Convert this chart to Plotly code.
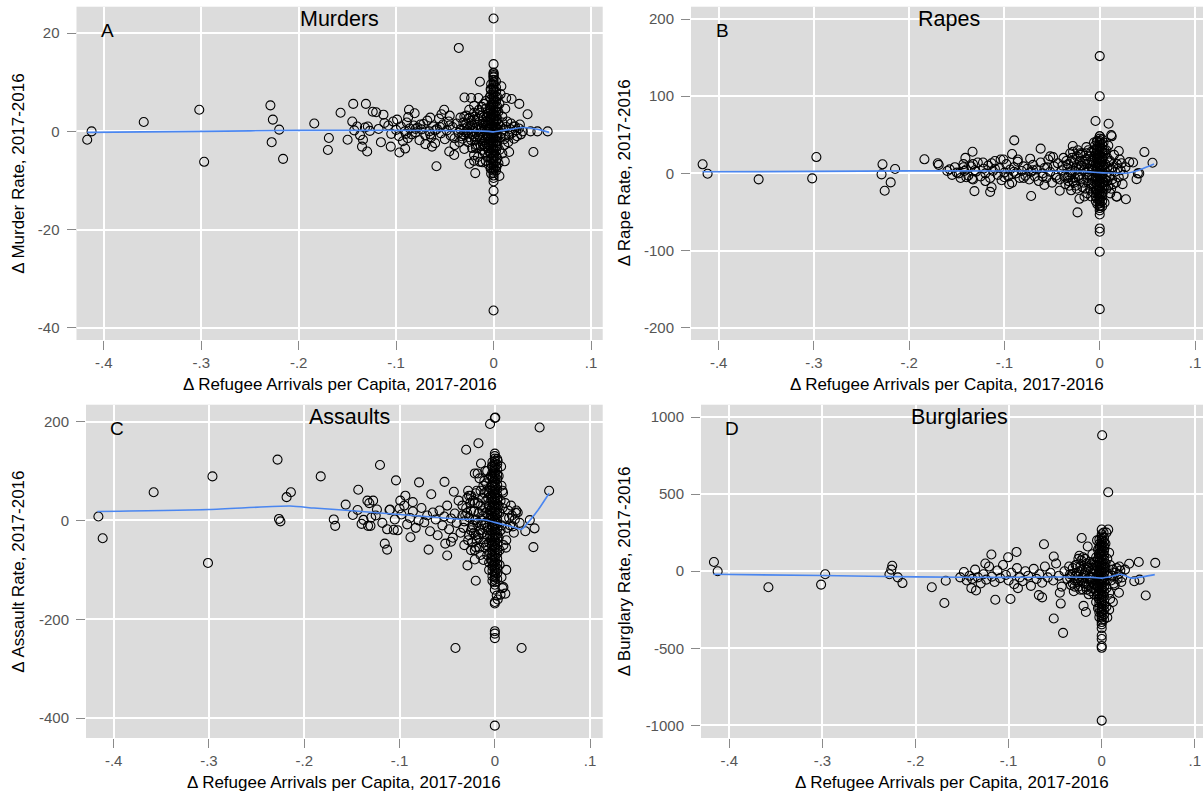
import plotly.graph_objects as go

# x values are change in refugee arrivals per capita, y values change in crime rate
murders_pts = [
    (-0.417, -1.7), (-0.4125, 0.0), (-0.359, 1.9), (-0.302, 4.4), (-0.297, -6.2),
    (-0.229, 5.3), (-0.2265, 2.4), (-0.22, 0.35), (-0.2277, -2.2), (-0.216, -5.6),
    (-0.184, 1.6), (-0.169, -1.35), (-0.170, -3.8), (-0.157, 3.8), (-0.1498, -1.7),
    (-0.144, 5.6), (-0.145, 2.0), (-0.131, 5.6), (-0.135, -3.1), (-0.1297, -4.1),
    (-0.134, -1.7), (-0.124, 4.0), (-0.1205, 3.9), (-0.113, 3.4), (-0.1156, -2.2),
    (-0.1055, -3.1), (-0.0966, -4.3), (-0.0907, -3.5), (-0.0868, 4.4), (-0.0876, 2.9),
    (-0.081, 3.7), (-0.0586, -7.1), (-0.0632, -3.1), (-0.0507, 4.4), (-0.0535, 3.5),
    (-0.0455, -4.1), (-0.0404, -4.8), (-0.0357, 17.0), (-0.0298, 6.9), (-0.023, 6.8),
    (-0.0155, 6.8), (-0.014, 10.1), (-0.020, 5.2), (-0.0247, -6.6), (-0.0188, -8.5),
    (-0.0114, -6.3), (0.0, 23.0), (0.0, 13.7), (0.0, 11.8), (0.0, 11.2), (0.0, -10.2),
    (0.0, -12.1), (0.0, -13.9), (0.0, -36.5), (0.008, 9.2), (0.0072, 7.6), (0.0115, -6.1),
    (0.011, -2.8), (0.006, -9.1), (0.0185, 6.6), (0.0264, 5.6), (0.0349, 3.5),
    (0.0409, -4.2), (0.030, 0.0), (0.038, 0.0), (0.045, 0.0), (0.0555, 0.0), (0.0205, 1.0),
    (-0.143, 0.2), (-0.14, 1.0), (-0.137, -0.8), (-0.132, 0.8), (-0.129, 1.0), (-0.127, 0.1),
    (-0.118, 0.5), (-0.112, 1.7), (-0.108, 1.2), (-0.105, -0.5), (-0.103, 2.0), (-0.1, 0.3),
    (-0.099, 2.4), (-0.097, -1.0), (-0.095, 1.0), (-0.093, -2.0), (-0.091, 0.0), (-0.089, 1.8),
    (-0.088, -1.4), (-0.086, 0.6), (-0.084, -0.6), (-0.082, 1.2), (-0.08, -0.2), (-0.078, 0.8),
    (-0.076, -1.8), (-0.074, 0.4), (-0.072, 1.5), (-0.07, -0.8), (-0.068, 2.2), (-0.066, 0.0),
    (-0.064, -1.2), (-0.062, 1.0), (-0.06, -2.4), (-0.058, 0.5), (-0.056, 2.6), (-0.054, -0.4),
    (-0.052, 1.4), (-0.05, -1.6), (-0.048, 0.2), (-0.046, 2.0), (-0.044, -0.9), (-0.042, 0.9),
    (-0.04, -2.8), (-0.038, 1.6), (-0.036, -0.3), (-0.034, 2.8), (-0.032, -1.5), (-0.03, 0.6),
    (-0.028, 3.2), (-0.026, -2.2), (-0.024, 1.1), (-0.022, -0.6), (-0.02, 2.4), (-0.018, -3.4),
    (-0.016, 0.3), (-0.014, 3.8), (-0.012, -1.8), (-0.011, 1.6), (-0.009, -4.4), (-0.008, 4.6),
    (-0.007, -0.8), (-0.006, 2.2), (-0.005, -2.6), (-0.004, 0.7), (-0.065, 2.8), (-0.07, -2.6),
    (-0.045, 3.2), (-0.03, -3.6), (-0.02, -4.8), (-0.012, 5.0), (-0.008, -6.0), (-0.025, 4.4),
    (-0.016, -5.2),
    (-0.034, 0.4), (-0.033, -1.0), (-0.031, 1.8), (-0.029, -0.2), (-0.027, 0.9), (-0.025, -1.2),
    (-0.023, 2.2), (-0.021, 0.1), (-0.019, -1.8), (-0.017, 1.3), (-0.015, -0.7), (-0.013, 0.5),
    (-0.011, -2.6), (-0.01, 2.9), (-0.009, 0.2), (-0.008, -1.4), (-0.007, 1.2), (-0.006, -3.4),
    (-0.005, 3.6), (-0.005, 0.8), (-0.004, -1.8), (-0.004, 2.4), (-0.003, -0.6), (-0.003, 4.2),
    (-0.003, -4.6), (-0.02, 3.8), (-0.018, -2.8), (-0.014, 2.0), (-0.012, 0.8), (-0.01, -0.8),
    (-0.009, -3.0), (-0.007, 3.0), (-0.006, -1.0), (-0.015, 4.4), (-0.022, -3.4), (-0.026, 2.6),
    (-0.012, -3.8), (-0.008, 6.2), (-0.006, -5.2), (-0.004, 7.0), (-0.005, -6.8), (-0.003, 8.6),
    (-0.003, -7.6), (-0.01, 5.6), (-0.014, -6.2), (-0.02, -6.0), (-0.03, 3.0), (-0.04, -1.4),
    (-0.045, 1.2), (-0.035, -2.2), (-0.055, 0.9), (-0.06, 0.2), (-0.075, 1.4), (-0.08, 0.5),
    (-0.09, -0.5), (-0.065, -0.6),
    (-0.028, 1.6), (-0.026, -0.4), (-0.024, 2.8), (-0.022, 1.4), (-0.02, -1.0), (-0.018, 0.6),
    (-0.016, 2.6), (-0.014, -1.6), (-0.013, -3.0), (-0.012, 3.2), (-0.011, 0.0), (-0.01, 1.2),
    (-0.009, -1.8), (-0.008, 2.0), (-0.007, -2.6), (-0.006, 0.4), (-0.006, 3.6), (-0.005, -0.8),
    (-0.005, -4.0), (-0.004, 1.6), (-0.004, 4.8), (-0.003, -2.4), (-0.003, 2.8), (-0.002, -5.6),
    (-0.002, 5.4), (-0.016, -2.8), (-0.019, 3.0), (-0.023, -1.8), (-0.027, 0.2), (-0.031, -0.6),
    (0.004, 5.0), (0.004, 2.5), (0.004, 0.5), (0.004, -1.0), (0.004, -3.0), (0.004, -5.5),
    (0.005, 1.5), (0.007, -1.2), (0.009, 3.0), (0.01, 0.4), (0.012, -0.8), (0.014, 2.0),
    (0.015, -2.2), (0.017, 0.5), (0.019, -0.3), (0.022, 1.0), (0.024, -1.0), (0.026, 0.6),
    (0.028, -0.6), (0.012, 4.6), (0.009, -4.5), (0.016, -4.2), (0.013, 6.8),
    (0.003, 2.2), (0.004, -2.0), (0.005, 4.0), (0.006, -3.8), (0.007, 1.0), (0.008, -0.4),
    (0.009, 1.8), (0.011, -1.6), (0.013, 0.9), (0.016, -0.9), (0.018, 1.6), (0.021, -1.5),
    (0.023, 0.2), (0.027, 1.4), (0.005, -6.5), (0.004, 7.0), (0.006, 5.6), (0.003, -7.2),
]
# counties with no change in arrivals (x = 0) and the two thin strips beside them
murders_zero_y = [12.0, 11.5, 11.0, 10.5, 10.0, 9.5, 9.0, 8.5, 8.0, 7.5, 7.0, 6.5, 6.0, 5.5, 5.0,
                  4.5, 4.0, 3.5, 3.0, 2.5, 2.0, 1.5, 1.0, 0.5, 0.0, -0.5, -1.0, -1.5, -2.0, -2.5,
                  -3.0, -3.5, -4.0, -4.5, -5.0, -5.5, -6.0, -6.5, -7.0, -7.5, -8.0, -8.5, -9.0, -9.5]
murders_left_y = [9.6, 8.4, 7.5, 6.6, 5.4, 4.5, 3.4, 2.6, 1.5, 0.6, -0.5, -1.4, -2.5, -3.6, -4.4,
                  -5.5, -6.6, -7.4, -8.6]
murders_right_y = [10.2, 9.0, 8.1, 7.0, 6.1, 4.9, 4.0, 3.1, 2.0, 0.9, 0.1, -1.0, -2.1, -2.9, -4.0,
                   -5.0, -6.1, -7.1, -8.0]
murders_fit_x = [-0.417, -0.36, -0.3, -0.2, -0.1, -0.05, -0.02, -0.005, 0.0, 0.01, 0.02, 0.03, 0.04, 0.05, 0.057]
murders_fit_y = [-0.2, -0.1, 0.0, 0.2, 0.2, 0.15, 0.1, 0.0, -0.1, 0.2, 0.5, 0.8, 0.6, 0.2, -0.2]

rapes_pts = [
    (-0.4168, 11.7), (-0.4116, -0.5), (-0.358, -7.8), (-0.3018, -6.5), (-0.2974, 21.1),
    (-0.228, 11.7), (-0.229, -1.3), (-0.2148, 5.6), (-0.2194, -11.7), (-0.2257, -22.5),
    (-0.184, 18.2), (-0.170, 13.0), (-0.169, 11.0), (-0.1575, 5.2), (-0.150, 1.0),
    (-0.143, 8.0), (-0.141, 20.0), (-0.142, 3.0), (-0.140, -5.0), (-0.1335, 28.0),
    (-0.133, 12.0), (-0.131, 4.0), (-0.134, -7.0), (-0.1315, -23.0), (-0.1225, 14.0),
    (-0.115, -24.0), (-0.1135, -18.0), (-0.1135, 13.0), (-0.104, 18.0), (-0.101, 18.0),
    (-0.0897, 42.8), (-0.092, 25.0), (-0.086, 18.0), (-0.095, -14.0), (-0.072, -29.4),
    (-0.073, 19.0), (-0.062, 32.0), (-0.058, -15.0), (-0.052, 22.0), (-0.049, 21.0),
    (-0.042, -22.5), (-0.0283, 35.4), (-0.0233, -50.6), (-0.0213, -33.0), (-0.0205, 26.0),
    (-0.0044, 67.8), (0.0, 152.0), (0.0, 100.0), (0.0, 48.0), (0.0, 40.0), (0.0, -33.7),
    (0.0, -42.6), (0.0, -53.4), (0.0, -71.4), (0.0, -75.7), (0.0, -101.6), (0.0, -176.0),
    (0.0093, 64.3), (0.012, 49.6), (0.020, 29.0), (0.023, 13.0), (0.018, -30.3),
    (0.0275, -33.6), (0.031, 14.6), (0.0387, -7.5), (0.040, 0.0), (0.0469, 27.6),
    (0.0554, 13.8), (0.035, 14.0), (0.0415, 0.0), (0.0175, -30.0), (0.0126, 48.0),
    (-0.16, 3.0), (-0.155, -2.0), (-0.152, 8.0), (-0.148, 0.0), (-0.146, -6.0), (-0.143, 12.0),
    (-0.14, 5.0), (-0.138, -3.0), (-0.135, 9.0), (-0.133, -8.0), (-0.13, 2.0), (-0.128, 14.0),
    (-0.125, -4.0), (-0.122, 6.0), (-0.12, 0.0), (-0.117, 10.0), (-0.115, -6.0), (-0.112, 3.0),
    (-0.11, 16.0), (-0.107, -2.0), (-0.105, 7.0), (-0.103, -9.0), (-0.1, 1.0), (-0.098, 12.0),
    (-0.096, -4.0), (-0.094, 5.0), (-0.092, -12.0), (-0.09, 8.0), (-0.088, 0.0), (-0.086, 15.0),
    (-0.084, -6.0), (-0.082, 3.0), (-0.08, 9.0), (-0.078, -3.0), (-0.076, 6.0), (-0.074, -8.0),
    (-0.072, 2.0), (-0.07, 11.0), (-0.068, -4.0), (-0.066, 5.0), (-0.064, -10.0), (-0.062, 14.0),
    (-0.06, 0.0), (-0.058, 7.0), (-0.056, -6.0), (-0.054, 18.0), (-0.052, 2.0), (-0.05, -12.0),
    (-0.048, 9.0), (-0.046, -3.0), (-0.044, 13.0), (-0.042, -8.0), (-0.04, 4.0), (-0.038, 20.0),
    (-0.036, -14.0), (-0.034, 7.0), (-0.032, -2.0), (-0.03, 16.0), (-0.028, -10.0), (-0.026, 3.0),
    (-0.024, 22.0), (-0.022, -6.0), (-0.02, 10.0), (-0.018, -18.0), (-0.016, 5.0), (-0.014, 26.0),
    (-0.012, -12.0), (-0.01, 14.0), (-0.008, -4.0), (-0.006, 30.0), (-0.004, -22.0), (-0.003, 8.0),
    (-0.034, -6.0), (-0.033, 12.0), (-0.031, 2.0), (-0.029, 20.0), (-0.027, -12.0), (-0.025, 8.0),
    (-0.023, -4.0), (-0.021, 16.0), (-0.019, -8.0), (-0.017, 4.0), (-0.015, -20.0), (-0.013, 12.0),
    (-0.011, -2.0), (-0.01, 22.0), (-0.009, -14.0), (-0.008, 6.0), (-0.007, -24.0), (-0.006, 14.0),
    (-0.005, -8.0), (-0.005, 36.0), (-0.004, 2.0), (-0.004, -30.0), (-0.003, 20.0), (-0.003, -14.0),
    (-0.003, 42.0), (-0.012, 30.0), (-0.016, -30.0), (-0.02, 24.0), (-0.024, -20.0), (-0.028, 28.0),
    (-0.032, -16.0), (-0.045, -6.0), (-0.055, 8.0), (-0.06, -4.0), (-0.07, 4.0), (-0.08, -6.0),
    (-0.09, 2.0), (-0.1, -5.0), (-0.11, 6.0), (-0.12, -10.0),
    (-0.039, 10.0), (-0.037, -4.0), (-0.035, 16.0), (-0.033, -10.0), (-0.031, 26.0), (-0.029, 4.0),
    (-0.027, 14.0), (-0.025, -16.0), (-0.023, 30.0), (-0.021, -2.0), (-0.019, 10.0), (-0.017, -12.0),
    (-0.015, 18.0), (-0.013, -6.0), (-0.011, 6.0), (-0.009, 28.0), (-0.008, -8.0), (-0.007, 4.0),
    (-0.006, -16.0), (-0.005, 20.0), (-0.005, 10.0), (-0.004, -4.0), (-0.004, 26.0), (-0.003, -22.0),
    (-0.003, 32.0), (-0.002, 14.0), (-0.002, -8.0), (-0.018, 26.0), (-0.014, 34.0), (-0.01, -20.0),
    (-0.016, 12.0), (-0.012, 2.0), (-0.008, 16.0), (-0.006, 40.0), (-0.004, -36.0), (-0.022, 8.0),
    (-0.026, -6.0), (-0.03, -22.0), (-0.013, -26.0), (-0.009, -30.0),
    (0.004, 10.0), (0.006, -8.0), (0.008, 20.0), (0.01, -3.0), (0.012, 6.0), (0.014, -14.0),
    (0.016, 2.0), (0.018, 12.0), (0.02, -5.0), (0.022, 4.0), (0.025, -2.0), (0.005, 30.0),
    (0.007, -20.0), (0.011, -26.0), (0.015, 24.0),
    (0.003, 18.0), (0.004, -12.0), (0.005, 4.0), (0.006, 26.0), (0.007, -4.0), (0.008, 8.0),
    (0.009, -16.0), (0.011, 16.0), (0.013, -8.0), (0.017, -12.0), (0.019, 6.0), (0.021, 18.0),
    (0.024, -14.0), (0.027, 8.0), (0.004, 40.0), (0.005, -38.0), (0.009, 36.0),
    (0.003, -26.0), (0.004, 26.0), (0.006, 12.0), (0.008, -10.0), (0.01, 14.0), (0.012, -20.0),
    (0.014, 8.0), (0.003, 0.0), (0.005, -16.0), (0.007, 30.0),
]
rapes_zero_y = [48, 45, 42, 39, 36, 33, 30, 27, 24, 21, 18, 15, 12, 9, 6, 3, 0, -3, -6, -9, -12,
                -15, -18, -21, -24, -27, -30, -33, -36, -39, -42, -45, -48]
rapes_left_y = [41, 35, 30, 24, 18, 13, 7, 1, -4, -10, -16, -21, -27, -33, -40]
rapes_right_y = [44, 38, 32, 27, 21, 15, 9, 4, -2, -7, -13, -19, -25, -30, -36, -43]
rapes_fit_x = [-0.417, -0.3, -0.2, -0.1, -0.02, 0.0, 0.01, 0.03, 0.045, 0.057]
rapes_fit_y = [2.0, 2.5, 3.2, 3.0, 2.5, 1.0, 0.5, 0.5, 6.0, 12.0]

assaults_pts = [
    (-0.416, 8.0), (-0.4115, -36.0), (-0.358, 57.0), (-0.2963, 89.0), (-0.301, -86.0),
    (-0.228, 123.0), (-0.2265, 3.0), (-0.225, -2.0), (-0.214, 57.0), (-0.2185, 47.0),
    (-0.1827, 89.0), (-0.169, 2.0), (-0.1675, -11.0), (-0.1565, 32.0), (-0.1433, 62.0),
    (-0.149, 11.0), (-0.144, 21.0), (-0.1398, -7.0), (-0.1378, 1.0), (-0.1337, 40.0),
    (-0.1317, 35.0), (-0.1297, 6.0), (-0.133, -11.0), (-0.1305, -11.0), (-0.1277, 40.0),
    (-0.1237, 22.0), (-0.1205, 112.0), (-0.1155, -47.0), (-0.113, -59.0), (-0.1105, 21.0),
    (-0.113, -18.0), (-0.1037, 81.0), (-0.0992, 40.0), (-0.1, 24.0), (-0.106, -19.0),
    (-0.0939, 50.0), (-0.0861, 37.0), (-0.0885, -34.0), (-0.0795, 77.0), (-0.0667, 53.0),
    (-0.0695, -59.0), (-0.0528, 78.0), (-0.052, -47.0), (-0.050, -71.0), (-0.043, 58.0),
    (-0.0413, -258.0), (-0.046, -43.0), (-0.0301, 143.0), (-0.0287, -91.0), (-0.02, -122.0),
    (-0.0172, 156.0), (-0.021, -79.0), (-0.02, -54.0), (-0.0145, 115.0), (-0.018, 95.0),
    (-0.021, 95.0), (-0.005, 195.0), (0.0, 207.0), (0.0005, 208.0), (0.0, -140.0),
    (0.0, -165.0), (0.0, -168.0), (0.0, -224.0), (0.0, -229.0), (0.0, -238.0), (0.0, -415.0),
    (0.0066, 109.0), (0.0086, 56.0), (0.0117, -55.0), (0.011, -148.0), (0.0281, -258.0),
    (0.032, -22.0), (0.0367, 0.6), (0.0417, -16.0), (0.0405, -54.0), (0.047, 188.0),
    (0.057, 60.0), (0.0225, 20.0), (0.024, 16.0), (0.008, -137.0), (0.002, -152.0),
    (-0.125, 10.0), (-0.118, -5.0), (-0.11, 22.0), (-0.105, 2.0), (-0.102, -20.0), (-0.098, 12.0),
    (-0.095, 30.0), (-0.092, -8.0), (-0.089, 5.0), (-0.086, 18.0), (-0.083, -15.0), (-0.08, 0.0),
    (-0.077, 25.0), (-0.074, -4.0), (-0.071, 10.0), (-0.068, -22.0), (-0.065, 16.0), (-0.062, 2.0),
    (-0.06, -30.0), (-0.058, 20.0), (-0.055, -10.0), (-0.053, 8.0), (-0.05, 30.0), (-0.048, -18.0),
    (-0.046, 4.0), (-0.044, -35.0), (-0.042, 14.0), (-0.04, -5.0), (-0.038, 40.0), (-0.036, -25.0),
    (-0.034, 10.0), (-0.032, -2.0), (-0.03, 25.0), (-0.028, -40.0), (-0.027, 6.0), (-0.025, 50.0),
    (-0.024, -15.0), (-0.022, 18.0), (-0.021, -60.0), (-0.02, 2.0), (-0.018, 35.0), (-0.017, -28.0),
    (-0.015, 60.0), (-0.014, -8.0), (-0.013, 20.0), (-0.012, -45.0), (-0.011, 80.0), (-0.01, -5.0),
    (-0.009, 40.0), (-0.008, -70.0), (-0.007, 12.0), (-0.006, 55.0), (-0.005, -30.0), (-0.004, 90.0),
    (-0.003, -50.0), (-0.003, 25.0), (-0.002, -90.0), (-0.015, -70.0), (-0.025, -60.0),
    (-0.01, 100.0), (-0.006, -100.0),
    (-0.034, 30.0), (-0.033, -15.0), (-0.031, 10.0), (-0.029, 45.0), (-0.027, -30.0), (-0.025, 20.0),
    (-0.023, -10.0), (-0.021, 35.0), (-0.019, -40.0), (-0.017, 15.0), (-0.015, -20.0), (-0.013, 45.0),
    (-0.011, -10.0), (-0.01, 25.0), (-0.009, -50.0), (-0.008, 60.0), (-0.007, -20.0), (-0.006, 30.0),
    (-0.005, -65.0), (-0.005, 5.0), (-0.004, 50.0), (-0.004, -40.0), (-0.003, 70.0), (-0.003, -10.0),
    (-0.003, 110.0), (-0.012, 70.0), (-0.016, -55.0), (-0.02, 55.0), (-0.024, -45.0), (-0.028, 60.0),
    (-0.032, -50.0), (-0.008, -30.0), (-0.006, 85.0), (-0.004, -80.0), (-0.009, 15.0), (-0.014, 0.0),
    (-0.018, -5.0), (-0.022, -25.0), (-0.026, 35.0),
    (-0.029, 15.0), (-0.027, 50.0), (-0.025, -20.0), (-0.023, 40.0), (-0.021, 0.0), (-0.019, 60.0),
    (-0.017, -35.0), (-0.015, 30.0), (-0.013, -25.0), (-0.012, 10.0), (-0.011, 55.0), (-0.01, -55.0),
    (-0.009, 75.0), (-0.008, -15.0), (-0.007, 45.0), (-0.006, -45.0), (-0.005, 20.0), (-0.005, 65.0),
    (-0.004, -20.0), (-0.004, 10.0), (-0.003, -70.0), (-0.003, 45.0), (-0.002, 85.0), (-0.002, -35.0),
    (-0.002, 5.0), (-0.02, -30.0), (-0.016, 85.0), (-0.012, -80.0), (-0.008, 100.0), (-0.006, -85.0),
    (0.004, 30.0), (0.006, -20.0), (0.008, 60.0), (0.01, 5.0), (0.012, -40.0), (0.014, 20.0),
    (0.016, -10.0), (0.018, 10.0), (0.02, -25.0), (0.022, 15.0), (0.026, -5.0), (0.005, -60.0),
    (0.007, 70.0), (0.012, -100.0), (0.009, -135.0), (0.006, -150.0), (0.003, -160.0),
    (0.003, 45.0), (0.004, -35.0), (0.005, 15.0), (0.006, 40.0), (0.007, -10.0), (0.008, 25.0),
    (0.009, -50.0), (0.011, 35.0), (0.013, -15.0), (0.015, 5.0), (0.017, 30.0), (0.019, -12.0),
    (0.021, 2.0), (0.004, 90.0), (0.005, -90.0), (0.007, -115.0), (0.003, 120.0),
]
assaults_zero_y = [135, 130, 125, 120, 115, 110, 105, 100, 95, 90, 85, 80, 75, 70, 65, 60, 55, 50,
                   45, 40, 35, 30, 25, 20, 15, 10, 5, 0, -5, -10, -15, -20, -25, -30, -35, -40, -45,
                   -50, -55, -60, -65, -70, -75, -80, -85, -90, -95, -100, -105, -110, -115, -120,
                   -125, -130]
assaults_left_y = [118, 108, 97, 88, 77, 68, 57, 48, 38, 27, 18, 8, -3, -12, -23, -32, -43, -52,
                   -62, -73, -82, -93, -102, -113, -122]
assaults_right_y = [124, 113, 103, 92, 83, 72, 63, 52, 43, 33, 22, 13, 2, -7, -17, -28, -37, -47,
                    -58, -67, -77, -88, -97, -107, -118]
assaults_fit_x = [-0.417, -0.3, -0.215, -0.19, -0.16, -0.12, -0.08, -0.04, -0.01, 0.0, 0.01, 0.02, 0.028, 0.035, 0.045, 0.057]
assaults_fit_y = [18, 22, 29, 25, 21, 15, 9, 3, 1, -4, -9, -14, -18, -4, 20, 55]

burglaries_pts = [
    (-0.4165, 60.0), (-0.4125, 0.0), (-0.358, -104.0), (-0.3014, -87.0), (-0.297, -20.0),
    (-0.228, -20.0), (-0.226, 10.0), (-0.225, 35.0), (-0.219, -40.0), (-0.214, -77.0),
    (-0.1825, -104.0), (-0.169, -206.0), (-0.1675, -62.0), (-0.1185, 108.0), (-0.1143, -185.0),
    (-0.1005, 90.0), (-0.098, -180.0), (-0.0915, 125.0), (-0.09, -110.0), (-0.0675, -155.0),
    (-0.064, -170.0), (-0.062, 175.0), (-0.0515, 95.0), (-0.0515, -307.0), (-0.044, -210.0),
    (-0.0415, -400.0), (-0.024, 100.0), (-0.0195, -225.0), (-0.017, -265.0), (-0.0215, 215.0),
    (0.0005, 882.0), (0.007, 512.0), (0.0, 270.0), (0.002, 250.0), (0.0, -497.0),
    (0.0, -485.0), (0.0, -440.0), (0.0, -418.0), (0.0, -370.0), (0.0, -969.0),
    (0.0185, -140.0), (0.0295, 48.0), (0.035, -65.0), (0.0398, 60.0), (0.0407, -55.0),
    (0.0473, -158.0), (0.0575, 54.0), (-0.14, -110.0), (-0.135, -125.0), (-0.125, 50.0),
    (-0.152, -40.0), (-0.148, -5.0), (-0.145, -60.0), (-0.142, -30.0), (-0.139, -50.0),
    (-0.136, 10.0), (-0.133, -40.0), (-0.13, -80.0), (-0.127, -20.0), (-0.124, -55.0),
    (-0.121, 30.0), (-0.118, -35.0), (-0.115, -70.0), (-0.112, 5.0), (-0.109, -45.0),
    (-0.106, 40.0), (-0.103, -25.0), (-0.1, -60.0), (-0.097, -10.0), (-0.094, -85.0),
    (-0.091, 20.0), (-0.088, -40.0), (-0.085, -65.0), (-0.082, 0.0), (-0.079, -30.0),
    (-0.076, -95.0), (-0.073, 15.0), (-0.07, -50.0), (-0.067, -20.0), (-0.064, -75.0),
    (-0.061, 30.0), (-0.058, -40.0), (-0.055, -10.0), (-0.052, -60.0), (-0.049, 50.0),
    (-0.046, -30.0), (-0.043, -100.0), (-0.04, 0.0), (-0.037, -50.0), (-0.034, -20.0),
    (-0.031, -80.0), (-0.028, 40.0), (-0.025, -35.0), (-0.022, -60.0), (-0.02, 90.0),
    (-0.018, -10.0), (-0.016, -120.0), (-0.014, 20.0), (-0.012, -45.0), (-0.01, 110.0),
    (-0.008, -80.0), (-0.006, 0.0), (-0.004, -150.0), (-0.003, 60.0), (-0.025, 80.0),
    (-0.03, -130.0), (-0.015, 160.0), (-0.035, 30.0), (-0.045, -140.0), (-0.005, 200.0),
    (-0.034, -40.0), (-0.033, -90.0), (-0.031, 20.0), (-0.029, -60.0), (-0.027, -10.0),
    (-0.025, -100.0), (-0.023, 30.0), (-0.021, -40.0), (-0.019, -80.0), (-0.017, 10.0),
    (-0.015, -50.0), (-0.013, 60.0), (-0.011, -110.0), (-0.01, -20.0), (-0.009, 40.0),
    (-0.008, -150.0), (-0.007, -50.0), (-0.006, 90.0), (-0.005, -90.0), (-0.005, 30.0),
    (-0.004, -20.0), (-0.004, 140.0), (-0.003, -180.0), (-0.003, 0.0), (-0.003, -60.0),
    (-0.012, -70.0), (-0.016, 50.0), (-0.02, -120.0), (-0.024, 0.0), (-0.028, -30.0),
    (-0.032, -20.0), (-0.006, -130.0), (-0.008, 10.0), (-0.018, -30.0), (-0.014, -90.0),
    (-0.022, 70.0), (-0.026, -70.0),
    (-0.029, -100.0), (-0.027, 40.0), (-0.025, -60.0), (-0.023, -120.0), (-0.021, 10.0),
    (-0.019, -20.0), (-0.017, -100.0), (-0.015, 30.0), (-0.013, -40.0), (-0.012, -130.0),
    (-0.011, 50.0), (-0.01, -70.0), (-0.009, -110.0), (-0.008, 60.0), (-0.007, -90.0),
    (-0.006, 40.0), (-0.005, -40.0), (-0.005, -160.0), (-0.004, 80.0), (-0.004, -100.0),
    (-0.003, 110.0), (-0.003, -130.0), (-0.002, 20.0), (-0.002, -70.0), (-0.002, 160.0),
    (-0.018, 80.0), (-0.014, -150.0), (-0.01, 20.0), (-0.006, -200.0), (-0.004, -240.0),
    (0.004, 50.0), (0.006, -30.0), (0.008, 120.0), (0.01, -60.0), (0.012, 10.0), (0.014, -90.0),
    (0.016, 20.0), (0.018, -20.0), (0.02, 5.0), (0.022, -40.0), (0.025, 10.0), (0.007, 270.0),
    (0.005, 250.0), (0.009, -180.0), (0.012, -200.0), (0.006, -300.0),
    (0.003, -60.0), (0.004, 20.0), (0.005, -110.0), (0.006, 80.0), (0.007, -20.0), (0.008, -140.0),
    (0.009, 40.0), (0.011, -30.0), (0.013, -80.0), (0.015, -10.0), (0.017, -50.0), (0.019, 30.0),
    (0.021, -70.0), (0.004, 180.0), (0.005, -230.0), (0.003, 150.0), (0.008, -250.0),
]
burglaries_zero_y = [240, 225, 210, 195, 180, 165, 150, 135, 120, 105, 90, 75, 60, 45, 30, 15, 0,
                     -15, -30, -45, -60, -75, -90, -105, -120, -135, -150, -165, -180, -195, -210,
                     -225, -240, -255, -270, -285, -300, -315, -330, -345]
burglaries_left_y = [205, 178, 148, 118, 92, 62, 33, 3, -28, -57, -88, -117, -147, -178, -208,
                     -238, -268, -298]
burglaries_right_y = [218, 190, 162, 133, 105, 77, 47, 18, -12, -42, -72, -102, -132, -162, -192,
                      -222, -252, -282, -312]
burglaries_fit_x = [-0.417, -0.3, -0.2, -0.1, -0.05, -0.01, 0.0, 0.01, 0.02, 0.025, 0.032, 0.045, 0.057]
burglaries_fit_y = [-20, -28, -37, -40, -38, -40, -45, -35, -20, -28, -45, -35, -22]


def with_zero_strip(pts, zero_y, left_y, right_y):
    return (pts + [(0.0, v) for v in zero_y]
            + [(-0.0025, v) for v in left_y] + [(0.0025, v) for v in right_y])


W, H = 1203, 793

panels = [
    # letter, title, y title, points, fit x, fit y, y ticks, y range, x range, box (left, top, right, bottom px)
    ("A", "Murders", "Δ Murder Rate, 2017-2016",
     with_zero_strip(murders_pts, murders_zero_y, murders_left_y, murders_right_y),
     murders_fit_x, murders_fit_y,
     [-40, -20, 0, 20], [-42.5, 25.4], [-0.428, 0.112], (76.5, 6.7, 602.7, 340)),
    ("B", "Rapes", "Δ Rape Rate, 2017-2016",
     with_zero_strip(rapes_pts, rapes_zero_y, rapes_left_y, rapes_right_y),
     rapes_fit_x, rapes_fit_y,
     [-200, -100, 0, 100, 200], [-216, 216], [-0.429, 0.1084], (691, 6.7, 1203, 340)),
    ("C", "Assaults", "Δ Assault Rate, 2017-2016",
     with_zero_strip(assaults_pts, assaults_zero_y, assaults_left_y, assaults_right_y),
     assaults_fit_x, assaults_fit_y,
     [-400, -200, 0, 200], [-440, 234], [-0.429, 0.1132], (86, 404.7, 602.7, 738)),
    ("D", "Burglaries", "Δ Burglary Rate, 2017-2016",
     with_zero_strip(burglaries_pts, burglaries_zero_y, burglaries_left_y, burglaries_right_y),
     burglaries_fit_x, burglaries_fit_y,
     [-1000, -500, 0, 500, 1000], [-1082, 1080], [-0.4304, 0.1088], (701, 404.7, 1203, 738)),
]

x_ticks = [-0.4, -0.3, -0.2, -0.1, 0, 0.1]
x_tick_text = ["-.4", "-.3", "-.2", "-.1", "0", ".1"]

font = "Liberation Sans, Arial, sans-serif"
fig = go.Figure()
annotations = []
layout = {}


def label(text, x, y, size, angle=0):
    return dict(text=text, x=x / W, y=1 - y / H, xref="paper", yref="paper",
                xanchor="center", yanchor="middle", showarrow=False, textangle=angle,
                font=dict(family=font, size=size, color="black"))


for i, (letter, title, ytitle, pts, fx, fy, yt, yr, xr, box) in enumerate(panels):
    n = "" if i == 0 else str(i + 1)
    left, top, right, bottom = box
    px_, py_ = zip(*pts)
    fig.add_trace(go.Scatter(
        x=px_, y=py_, mode="markers", xaxis="x" + n, yaxis="y" + n,
        marker=dict(symbol="circle-open", size=9, color="black", line=dict(width=1.1)),
        showlegend=False, hoverinfo="x+y",
    ))
    fig.add_trace(go.Scatter(
        x=fx, y=fy, mode="lines", xaxis="x" + n, yaxis="y" + n,
        line=dict(color="#4a86f0", width=1.6, shape="spline", smoothing=0.6),
        showlegend=False, hoverinfo="skip",
    ))
    axis_common = dict(
        showgrid=True, gridcolor="white", gridwidth=1.5, zeroline=False,
        showline=False, ticks="outside", ticklen=9, tickcolor="#8a8a8a", tickwidth=1,
        tickfont=dict(family=font, size=15, color="#555555"),
    )
    layout["xaxis" + n] = dict(
        axis_common, domain=[left / W, right / W], range=xr, anchor="y" + n,
        tickvals=x_ticks, ticktext=x_tick_text, ticklabelstandoff=0,
    )
    layout["yaxis" + n] = dict(
        axis_common, domain=[1 - bottom / H, 1 - top / H], range=yr, anchor="x" + n,
        tickvals=yt, ticktext=[str(v) for v in yt], ticklabelstandoff=4,
    )
    cx = (left + right) / 2
    cy = (top + bottom) / 2
    annotations += [
        label(letter, left + 31, top + 24, 19),
        label(title, left + (263 if i % 2 == 0 else 258), top + 12.5, 21.5),
        label("Δ Refugee Arrivals per Capita, 2017-2016", cx, bottom + 44, 17),
        label(ytitle, 18.4 if i % 2 == 0 else 624, cy, 17, angle=-90),
    ]

fig.update_layout(
    **layout,
    annotations=annotations,
    width=W, height=H,
    margin=dict(l=0, r=0, t=0, b=0),
    paper_bgcolor="white",
    plot_bgcolor="#dcdcdc",
    font=dict(family=font),
)

fig.write_html(
    "out.html",
    config={"displayModeBar": False},
    post_script="document.body.style.margin='0';document.body.style.overflow='hidden';",
)
